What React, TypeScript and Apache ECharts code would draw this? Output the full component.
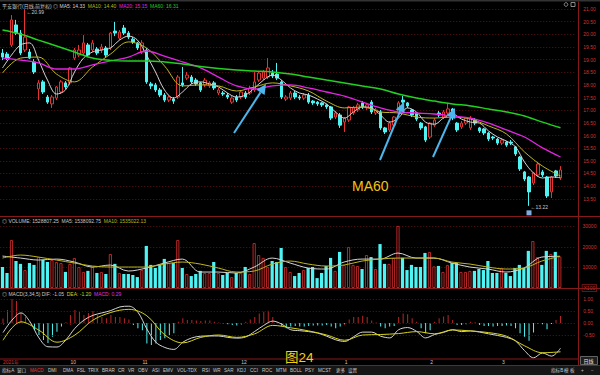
import React, { useEffect, useRef } from 'react';
import * as echarts from 'echarts';

// ---------- data ----------
// daily candles: [open, close, low, high]
const candles: number[][] = [
  [19.26, 19.10, 18.98, 19.42], [19.22, 19.06, 18.98, 19.30], [19.58, 20.57, 19.50, 20.76], [20.37, 20.05, 19.97, 20.57], [20.05, 19.26, 19.18, 20.17],
  [19.38, 19.89, 19.30, 20.99], [19.30, 19.06, 19.02, 19.42], [18.91, 18.51, 18.43, 19.02], [17.84, 18.08, 17.40, 18.19], [18.12, 17.72, 17.64, 18.19],
  [17.52, 17.32, 17.25, 17.60], [17.25, 17.52, 17.09, 17.60], [17.48, 17.92, 17.40, 17.96], [17.72, 18.12, 17.64, 18.19], [18.08, 17.92, 17.84, 18.15],
  [18.08, 18.67, 18.00, 18.71], [19.06, 19.38, 18.98, 19.46], [19.18, 19.38, 19.10, 19.58], [19.26, 19.66, 19.18, 19.97], [19.58, 19.18, 19.10, 19.66],
  [19.38, 19.66, 19.30, 19.77], [19.42, 19.26, 19.18, 19.50], [19.38, 19.50, 19.26, 19.62], [19.46, 19.18, 19.10, 19.54], [19.46, 20.05, 19.38, 20.09],
  [20.13, 20.05, 19.93, 20.49], [19.85, 20.09, 19.77, 20.17], [20.25, 20.05, 19.97, 20.37], [20.05, 19.89, 19.81, 20.13], [19.81, 19.70, 19.62, 19.89],
  [19.66, 19.46, 19.38, 19.70], [19.30, 19.66, 19.22, 19.77], [19.38, 18.12, 18.04, 19.46], [18.04, 17.96, 17.84, 18.12], [18.00, 17.80, 17.72, 18.08],
  [17.80, 17.60, 17.52, 17.88], [17.60, 17.40, 17.32, 17.68], [17.40, 17.52, 17.32, 17.60], [17.44, 17.36, 17.25, 17.52], [17.52, 18.31, 17.44, 18.39],
  [18.08, 18.00, 17.92, 18.71], [18.27, 18.39, 18.19, 18.51], [18.31, 18.12, 18.04, 18.39], [18.19, 18.04, 17.96, 18.27], [18.08, 17.80, 17.72, 18.12],
  [18.00, 18.19, 17.92, 18.27], [17.96, 18.08, 17.88, 18.15], [18.08, 17.88, 17.80, 18.15], [17.68, 17.80, 17.60, 17.88], [17.68, 17.64, 17.56, 17.76],
  [17.60, 17.52, 17.44, 17.68], [17.32, 17.48, 17.25, 17.56], [17.52, 17.40, 17.32, 17.60], [17.52, 17.72, 17.44, 17.80], [17.68, 17.52, 17.44, 17.76],
  [17.68, 17.88, 17.60, 17.96], [17.80, 18.12, 17.72, 18.51], [18.19, 18.47, 18.12, 18.55], [18.27, 18.51, 18.19, 18.59], [18.31, 18.67, 18.23, 19.06],
  [18.47, 18.35, 18.27, 18.59], [18.43, 18.27, 18.19, 18.87], [18.12, 17.52, 17.44, 18.19], [17.44, 17.52, 17.36, 17.60], [17.48, 17.68, 17.40, 17.76],
  [17.68, 17.52, 17.44, 17.76], [17.52, 17.48, 17.40, 17.60], [17.48, 17.60, 17.40, 17.68], [17.60, 17.32, 17.25, 17.68], [17.36, 17.29, 17.21, 17.40],
  [17.32, 17.25, 17.17, 17.36], [17.29, 17.21, 17.13, 17.32], [17.21, 17.13, 17.05, 17.25], [17.13, 16.69, 16.61, 17.17], [16.73, 16.89, 16.65, 16.97],
  [16.81, 16.41, 16.30, 16.89], [16.53, 16.69, 16.14, 16.73], [16.61, 17.13, 16.53, 17.17], [16.89, 17.09, 16.81, 17.17], [17.01, 17.21, 16.93, 17.29],
  [17.29, 17.13, 17.05, 17.36], [17.09, 17.21, 17.01, 17.29], [17.32, 16.93, 16.85, 17.40], [16.89, 17.01, 16.81, 17.09], [16.93, 16.30, 16.22, 17.01],
  [16.30, 16.14, 16.06, 16.34], [16.22, 16.49, 16.14, 16.57], [16.41, 16.73, 16.34, 16.77], [16.89, 17.29, 16.81, 17.36], [17.40, 17.32, 17.25, 17.56],
  [17.29, 17.17, 17.09, 17.32], [17.01, 16.81, 16.73, 17.05], [16.89, 16.65, 16.57, 16.93], [16.49, 16.30, 16.22, 16.53], [16.34, 15.82, 15.74, 16.38],
  [15.94, 16.49, 15.86, 16.53], [16.41, 16.61, 16.34, 16.69], [16.89, 16.81, 16.73, 16.97], [16.73, 16.93, 16.65, 17.01], [16.89, 17.05, 16.81, 17.29],
  [17.05, 16.69, 16.61, 17.09], [16.49, 16.22, 16.14, 16.53], [16.34, 16.49, 16.26, 16.57], [16.49, 16.69, 16.41, 16.73], [16.30, 16.69, 16.22, 16.77],
  [16.61, 16.49, 16.41, 16.69], [16.30, 16.18, 16.10, 16.34], [16.26, 16.10, 16.02, 16.30], [16.10, 15.86, 15.78, 16.14], [15.94, 15.90, 15.82, 15.98],
  [15.86, 15.70, 15.62, 15.90], [15.70, 15.82, 15.62, 15.90], [15.74, 15.62, 15.55, 15.78], [15.74, 15.70, 15.62, 15.82], [15.55, 15.27, 15.19, 15.59],
  [15.15, 14.68, 14.60, 15.19], [14.56, 14.28, 14.20, 14.60], [14.36, 13.77, 13.22, 14.40], [14.12, 14.52, 14.04, 14.56], [14.44, 14.87, 14.36, 14.95],
  [14.56, 14.44, 14.36, 14.64], [14.36, 13.61, 13.53, 14.40], [13.77, 14.36, 13.53, 14.40], [14.60, 14.40, 14.32, 14.64], [14.32, 14.64, 14.24, 14.79],
];

// volume (axis units, x100)
const volumes: number[] = [
  10200, 7300, 23300, 13100, 11700, 8700, 12100, 11200, 15000, 13600,
  12600, 13600, 12600, 12100, 7800, 11700, 14600, 10200, 7800, 8300,
  10200, 7300, 7800, 6800, 16500, 11700, 7300, 6800, 6800, 6300,
  5300, 8700, 20400, 11200, 9700, 11200, 14100, 12100, 12100, 23300,
  9700, 6800, 5800, 6800, 8300, 7300, 7300, 12600, 7300, 6300,
  7300, 5300, 7300, 7300, 10200, 6800, 21800, 16000, 14600, 10200,
  13100, 12600, 19400, 10200, 7800, 5800, 7300, 8700, 9700, 10200,
  4800, 7300, 10700, 14600, 8300, 17500, 11200, 19900, 11200, 10700,
  9200, 16000, 15000, 9200, 21300, 11700, 11700, 14600, 30100, 14600,
  8700, 11200, 10200, 10200, 17000, 17500, 10500, 10700, 7800, 11200,
  12100, 12100, 7800, 7800, 8300, 8300, 9200, 8700, 13100, 7300,
  7300, 9700, 7300, 5800, 9700, 11200, 9700, 18000, 22800, 15000,
  11200, 18000, 16500, 17500, 15288,
];

// moving averages (MA5 every 2 sessions, others every 4)
const MA5_STEP = 2;
const ma5: number[] = [
  18.67, 19.18, 19.58, 19.66, 18.98, 18.19, 17.64, 17.80, 18.51, 19.06,
  19.30, 19.38, 19.46, 19.77, 19.93, 19.77, 19.18, 18.51, 17.80, 17.48,
  17.72, 18.04, 18.12, 18.04, 17.92, 17.68, 17.52, 17.60, 17.88, 18.19,
  18.39, 18.19, 17.88, 17.68, 17.60, 17.44, 17.25, 16.93, 16.69, 16.93,
  17.13, 17.09, 16.81, 16.53, 16.69, 17.09, 16.93, 16.53, 16.45, 16.69,
  16.85, 16.65, 16.53, 16.49, 16.18, 15.94, 15.78, 15.55, 14.95, 14.52,
  14.32, 14.36, 14.33,
];
const MA_STEP = 4;
const ma10: number[] = [
  18.47, 19.06, 19.10, 18.43, 18.12, 18.71, 19.22, 19.70, 19.46, 18.75,
  17.96, 18.00, 17.96, 17.76, 17.92, 18.08, 17.96, 17.76, 17.36, 17.09,
  17.13, 16.93, 16.89, 16.73, 16.69, 16.73, 16.65, 16.38, 16.06, 15.35,
  14.79, 14.40,
];
const ma20: number[] = [
  19.06, 18.98, 18.87, 18.63, 18.63, 18.79, 18.95, 19.10, 19.34, 19.14,
  18.91, 18.67, 18.31, 17.96, 17.84, 17.96, 18.00, 17.88, 17.72, 17.56,
  17.32, 17.09, 16.93, 16.89, 16.85, 16.77, 16.69, 16.49, 16.22, 15.94,
  15.51, 15.15,
];
const ma60: number[] = [
  20.17, 20.01, 19.77, 19.54, 19.30, 19.06, 18.97, 18.95, 18.95, 18.91,
  18.83, 18.73, 18.65, 18.59, 18.55, 18.51, 18.43, 18.31, 18.19, 18.08,
  17.96, 17.84, 17.64, 17.48, 17.36, 17.25, 17.17, 17.05, 16.93, 16.77,
  16.53, 16.31,
];
const volMa5: number[] = [
  15480, 14520, 13550, 14030, 12580, 10160, 11130, 8230, 9680, 12100,
  14030, 7740, 7740, 7260, 10160, 14520, 12100, 9680, 9190, 12580,
  14030, 14030, 16940, 14520, 14520, 12100, 10160, 9190, 7740, 9680,
  15000, 15381,
];
const volMa10: number[] = [
  14520, 15970, 15000, 13550, 12100, 10650, 10160, 10160, 10160, 11610,
  12580, 11610, 9680, 7740, 8230, 11610, 13070, 11610, 10650, 11130,
  13070, 14030, 14520, 14520, 14520, 12580, 11610, 10160, 9190, 9680,
  13070, 15350,
];

// MACD
const macdHist: number[] = [
  0.19, 0.54, 1.0, 0.92, 0.42, 0.25, 0.05, -0.29, -0.5, -0.71,
  -0.83, -0.57, -0.36, -0.15, 0.03, 0.33, 0.54, 0.46, 0.33, 0.42,
  0.5, 0.33, 0.25, 0.2, 0.33, 0.25, 0.25, 0.2, 0.15, -0.08,
  -0.22, -0.3, -0.85, -0.92, -0.85, -0.71, -0.64, -0.5, -0.43, 0.05,
  0.2, 0.12, 0.12, 0.1, 0.08, 0.1, 0.1, 0.05, 0.02, -0.03,
  -0.05, -0.08, -0.1, -0.05, 0.05, 0.15, 0.25, 0.4, 0.47, 0.51,
  0.25, 0.05, -0.15, -0.22, -0.15, -0.12, -0.15, -0.15, -0.12, -0.1,
  -0.1, -0.1, -0.08, -0.15, -0.22, -0.15, -0.03, 0.15, 0.25, 0.25,
  0.3, 0.25, 0.1, 0.02, -0.15, -0.22, -0.15, -0.12, 0.25, 0.4,
  0.36, 0.2, 0.05, -0.22, -0.43, -0.3, 0.05, 0.2, 0.27, 0.33,
  0.12, -0.08, -0.08, -0.05, 0.05, 0.03, -0.08, -0.12, -0.12, -0.15,
  -0.12, -0.12, -0.1, -0.12, -0.22, -0.43, -0.57, -0.74, -0.4, -0.04,
  -0.05, -0.26, -0.04, 0.12, 0.29,
];
const DIF_STEP = 2;
const dif: number[] = [
  -0.40, 0.12, 0.42, 0.05, -0.62, -0.99, -1.0, -0.7, -0.22, 0.12,
  0.32, 0.42, 0.52, 0.67, 0.70, 0.45, -0.25, -0.8, -1.02, -1.1,
  -0.8, -0.62, -0.55, -0.54, -0.54, -0.6, -0.63, -0.58, -0.35, -0.1,
  0.08, -0.05, -0.28, -0.32, -0.36, -0.42, -0.55, -0.7, -0.77, -0.57,
  -0.38, -0.38, -0.55, -0.62, -0.28, -0.19, -0.35, -0.62, -0.48, -0.39,
  -0.28, -0.36, -0.33, -0.38, -0.45, -0.52, -0.6, -0.75, -1.15, -1.45,
  -1.25, -1.38, -1.05,
];
const DEA_STEP = 4;
const dea: number[] = [
  -0.72, 0.05, -0.3, -0.8, -0.5, 0.12, 0.44, 0.57, 0.3, -0.5,
  -0.83, -0.6, -0.5, -0.6, -0.45, -0.1, -0.2, -0.33, -0.5, -0.72,
  -0.5, -0.48, -0.44, -0.36, -0.45, -0.29, -0.33, -0.4, -0.55, -0.95,
  -1.24, -1.2,
];

// month ticks (session index where a month starts) and their labels
const monthStartIdx = [0, 15, 31, 53, 76, 95, 111];
const monthLabels = ['2021年', '10', '11', '12', '1', '2', '3'];
const SLOT_COUNT = 128; // sessions + empty room on the right

const stockTitle = '平安银行(日线,前复权)';
const volumeHeader = { volume: 1528807.25, ma5: 1538092.75, ma10: 1535022.13 };
const macdParams = '3,34,5';
const macdGridLevels = [1, 0.5, 0, -0.5];

const toolbarTabs = ['指标A', '窗口', 'MACD', 'DMI', 'DMA', 'FSL', 'TRIX', 'BRAR', 'CR', 'VR', 'OBV', 'ASI', 'EMV', 'VOL-TDX', 'RSI', 'WR', 'SAR', 'KDJ', 'CCI', 'ROC', 'MTM', 'BOLL', 'PSY', 'MCST', '更多', '设置'];
const toolbarRight = ['指标B', '模', '板', '+', '−'];

// ---------- styling / layout ----------
const FONT = '"Liberation Sans", "Noto Sans CJK SC", sans-serif';
const RED = '#e43434';
const VOL_RED = '#b92626';
const CYAN = '#4ef4f4';
const GRID_RED = '#5c1212';
const SEP = '#861a1a';
const LABEL_RED = '#d23434';
const C_MA5 = '#d4d4d4';
const C_MA10 = '#bdb520';
const C_MA20 = '#e424e4';
const C_MA60 = '#22d022';
const C_YEL = '#d6d220';
const C_MAG = '#e030e0';
const TXT = '#c8c8c8';
const HDR = 5;

const tabX = [2, 17, 30, 48, 63, 77, 88, 102, 118, 128, 138, 152, 163, 177, 202, 213, 224, 237, 250, 262, 276, 290, 305, 318, 336, 348];
const tabRightX = [551, 564, 570, 581, 591];

const sparse = (arr: number[], step: number) => arr.map((v, k) => [k * step, v]);
const last = (arr: number[]) => arr[arr.length - 1];

function txt(x: number, y: number, text: string, fill: string, fontSize = HDR, extra: any = {}) {
  return {
    type: 'text', x, y, z: 60, silent: true,
    style: { text, fill, fontSize, fontFamily: FONT, verticalAlign: 'middle', align: 'left', ...extra },
  };
}

// one header line made of coloured segments flowing left to right
function header(x: number, y: number, parts: [string, string][]) {
  const rich: any = {};
  let text = '';
  parts.forEach(([s, color], k) => {
    rich['p' + k] = { fill: color, color, fontSize: HDR, fontFamily: FONT };
    text += `{p${k}|${s}}`;
  });
  return {
    type: 'text', x, y, z: 60, silent: true,
    style: { text, rich, fontSize: HDR, fontFamily: FONT, fill: TXT, verticalAlign: 'middle', align: 'left' },
  };
}

function arrow(x1: number, y1: number, x2: number, y2: number, color: string) {
  const dx = x2 - x1, dy = y2 - y1;
  const len = Math.hypot(dx, dy);
  const ux = dx / len, uy = dy / len;
  const bx = x2 - ux * 10, by = y2 - uy * 10;
  const px = -uy * 4.8, py = ux * 4.8;
  return [
    { type: 'line', z: 70, silent: true, shape: { x1, y1, x2: bx, y2: by }, style: { stroke: color, lineWidth: 2 } },
    { type: 'polygon', z: 70, silent: true, shape: { points: [[x2, y2], [bx + px, by + py], [bx - px, by - py]] }, style: { fill: color } },
  ];
}

function buildOption() {
  const cats = Array.from({ length: SLOT_COUNT }, (_, i) => String(i));
  const isUp = (i: number) => candles[i][1] >= candles[i][0];

  let hiIdx = 0, loIdx = 0;
  candles.forEach((c, i) => {
    if (c[3] > candles[hiIdx][3]) hiIdx = i;
    if (c[2] < candles[loIdx][2]) loIdx = i;
  });

  const gridBase = { left: 0.25, right: 23.75 };
  const xAxes = [0, 1, 2].map((g) => ({
    type: 'category', gridIndex: g, data: cats, boundaryGap: true,
    axisLine: { show: false },
    axisTick: {
      show: g === 2, alignWithLabel: true, length: 2,
      interval: (i: number) => monthStartIdx.includes(i),
      lineStyle: { color: SEP },
    },
    axisLabel: {
      show: g === 2, margin: 0.5, align: 'left', fontSize: 5, fontFamily: FONT, color: TXT,
      interval: (i: number) => monthStartIdx.includes(i),
      formatter: (_v: string, i: number) => {
        const k = monthStartIdx.indexOf(i);
        if (k < 0) return '';
        return k === 0 ? `{y|${monthLabels[k]}}` : monthLabels[k];
      },
      rich: { y: { color: LABEL_RED, fontSize: 5, fontFamily: FONT } },
    },
    splitLine: { show: false },
  }));

  const yLabel = { color: LABEL_RED, fontSize: 5, fontFamily: FONT, margin: 7 };
  const dashed = { color: GRID_RED, type: [1, 2], width: 1 };

  const lineSeries = (name: string, data: any[], color: string, xi: number, width = 1) => ({
    name, type: 'line', xAxisIndex: xi, yAxisIndex: xi, data, smooth: 0.35, showSymbol: false,
    symbol: 'none', silent: true, z: 5, lineStyle: { color, width }, itemStyle: { color },
  });

  const sp = '  ';

  return {
    animation: false,
    backgroundColor: '#000',
    grid: [
      { ...gridBase, top: 2.7, height: 208.7 },
      { ...gridBase, top: 222, height: 66 },
      { ...gridBase, top: 294.2, height: 64.8 },
    ],
    xAxis: xAxes,
    yAxis: [
      {
        gridIndex: 0, position: 'right', min: 13, max: 21.25, interval: 0.5,
        axisLine: { show: false }, axisTick: { show: false },
        axisLabel: { ...yLabel, formatter: (v: number) => (v >= 13.4 && v <= 21.01 ? v.toFixed(2) : '') },
        splitLine: { show: true, showMinLine: false, showMaxLine: false, lineStyle: dashed },
      },
      {
        gridIndex: 1, position: 'right', min: 0, max: 32000, interval: 10000,
        axisLine: { show: false }, axisTick: { show: false },
        axisLabel: {
          ...yLabel,
          formatter: (v: number) => (v === 0 ? '{b|X100}' : v % 10000 === 0 ? String(v) : ''),
          rich: { b: { color: LABEL_RED, fontSize: 5, fontFamily: FONT, borderColor: SEP, borderWidth: 0.8, padding: [0.5, 1], backgroundColor: '#000' } },
        },
        splitLine: { show: true, showMinLine: false, showMaxLine: false, lineStyle: dashed },
      },
      {
        gridIndex: 2, position: 'right', min: -1.5, max: 1.2, interval: 0.5,
        axisLine: { show: false }, axisTick: { show: false },
        axisLabel: { ...yLabel, formatter: (v: number) => (v >= -0.51 && v <= 1.01 ? v.toFixed(2) : '') },
        splitLine: { show: false },
      },
    ],
    series: [
      {
        name: 'K', type: 'candlestick', xAxisIndex: 0, yAxisIndex: 0, data: candles, barWidth: 3, z: 3,
        itemStyle: { color: '#000', color0: CYAN, borderColor: RED, borderColor0: CYAN, borderWidth: 1 },
        markPoint: {
          silent: true, symbol: 'circle', symbolSize: 1, itemStyle: { color: 'transparent' },
          label: { show: true, position: 'right', distance: 1, color: TXT, fontSize: 5, fontFamily: FONT },
          data: [
            { coord: [hiIdx, candles[hiIdx][3]], label: { formatter: '←' + candles[hiIdx][3].toFixed(2), offset: [0, 3] } },
            { coord: [loIdx, candles[loIdx][2]], label: { formatter: '←' + candles[loIdx][2].toFixed(2), offset: [0, 1] } },
            { coord: [loIdx, candles[loIdx][2]], symbol: 'rect', symbolSize: [5, 5], symbolOffset: [0, 7], itemStyle: { color: '#7eaee0' }, label: { show: false } },
          ],
        },
      },
      lineSeries('MA5', sparse(ma5, MA5_STEP), C_MA5, 0),
      lineSeries('MA10', sparse(ma10, MA_STEP), C_MA10, 0),
      lineSeries('MA20', sparse(ma20, MA_STEP), C_MA20, 0, 1.3),
      lineSeries('MA60', sparse(ma60, MA_STEP), C_MA60, 0, 1.5),
      {
        name: 'VOL', type: 'bar', xAxisIndex: 1, yAxisIndex: 1, barWidth: 3.2, silent: true,
        data: volumes.map((v, i) => ({
          value: v,
          itemStyle: isUp(i) ? { color: '#000', borderColor: VOL_RED, borderWidth: 1 } : { color: CYAN },
        })),
      },
      lineSeries('VMA5', sparse(volMa5, MA_STEP), C_MA5, 1),
      lineSeries('VMA10', sparse(volMa10, MA_STEP), C_MA10, 1),
      {
        name: 'MACD', type: 'bar', xAxisIndex: 2, yAxisIndex: 2, barWidth: 1, silent: true,
        data: macdHist.map((v) => ({ value: v, itemStyle: { color: v >= 0 ? VOL_RED : CYAN } })),
        markLine: {
          silent: true, symbol: ['none', 'none'], label: { show: false },
          lineStyle: dashed, data: macdGridLevels.map((v) => ({ yAxis: v })),
        },
      },
      lineSeries('DIF', sparse(dif, DIF_STEP), C_MA5, 2),
      lineSeries('DEA', sparse(dea, DEA_STEP), C_YEL, 2),
    ],
    graphic: [
      { type: 'rect', silent: true, z: 40, shape: { x: 0, y: 0, width: 600, height: 1.5 }, style: { fill: '#333' } },
      { type: 'line', silent: true, z: 40, shape: { x1: 0, y1: 216.5, x2: 600, y2: 216.5 }, style: { stroke: SEP, lineWidth: 1 } },
      { type: 'line', silent: true, z: 40, shape: { x1: 0, y1: 288.5, x2: 600, y2: 288.5 }, style: { stroke: SEP, lineWidth: 1 } },
      { type: 'line', silent: true, z: 40, shape: { x1: 0, y1: 359, x2: 578.5, y2: 359 }, style: { stroke: SEP, lineWidth: 1 } },
      { type: 'line', silent: true, z: 40, shape: { x1: 578.5, y1: 1.5, x2: 578.5, y2: 365 }, style: { stroke: SEP, lineWidth: 1 } },
      // header icons
      { type: 'circle', silent: true, z: 40, shape: { cx: 566, cy: 4.5, r: 1.8 }, style: { stroke: '#aaa', fill: 'none', lineWidth: 0.8 } },
      { type: 'rect', silent: true, z: 40, shape: { x: 571, y: 2.5, width: 4, height: 4 }, style: { stroke: '#aaa', fill: 'none', lineWidth: 0.8 } },
      // panel headers
      header(2, 5.5, [
        [stockTitle + ' ◎ ', TXT],
        [`MA5: ${last(ma5).toFixed(2)}` + sp, C_MA5],
        [`MA10: ${last(ma10).toFixed(2)}` + sp, C_MA10],
        [`MA20: ${last(ma20).toFixed(2)}` + sp, C_MA20],
        [`MA60: ${last(ma60).toFixed(2)}`, C_MA60],
      ]),
      header(2, 220.5, [
        [`◎ VOLUME: ${volumeHeader.volume.toFixed(2)}` + sp, TXT],
        [`MA5: ${volumeHeader.ma5.toFixed(2)}` + sp, TXT],
        [`MA10: ${volumeHeader.ma10.toFixed(2)}`, C_MA10],
      ]),
      header(2, 294, [
        [`◎ MACD(${macdParams}) DIF: ${last(dif).toFixed(2)}` + sp, TXT],
        [`DEA: ${last(dea).toFixed(2)}` + sp, C_YEL],
        [`MACD: ${last(macdHist).toFixed(2)}`, C_MAG],
      ]),
      // annotations
      ...arrow(234, 133, 266, 84, '#4db6ec'),
      ...arrow(380, 160, 404, 102, '#4db6ec'),
      ...arrow(433, 157, 455, 108, '#4db6ec'),
      txt(352, 185.5, 'MA60', '#f0c414', 14),
      txt(285, 357, '图24', '#f2d014', 13.5),
      // period box
      { type: 'rect', silent: true, z: 40, shape: { x: 580.5, y: 356.5, width: 17, height: 8 }, style: { stroke: '#777', fill: '#1e1e1e', lineWidth: 0.8 } },
      txt(583.5, 360.8, '日线', '#e6e6e6', 5),
      // toolbar
      { type: 'rect', silent: true, z: 40, shape: { x: 0, y: 365.5, width: 600, height: 9.5 }, style: { fill: '#161616' } },
      { type: 'line', silent: true, z: 41, shape: { x1: 0, y1: 365.5, x2: 600, y2: 365.5 }, style: { stroke: '#3a3a3a', lineWidth: 1 } },
      ...toolbarTabs.map((s, k) => txt(tabX[k], 370.5, s, s === 'MACD' ? RED : TXT, 4.6)),
      ...toolbarRight.map((s, k) => txt(tabRightX[k], 370.5, s, TXT, 4.6)),
    ],
  };
}

export default function App() {
  const ref = useRef<HTMLDivElement>(null);
  useEffect(() => {
    if (!ref.current) return;
    const chart = echarts.init(ref.current, null, { renderer: 'svg' });
    chart.setOption(buildOption() as any);
    return () => chart.dispose();
  }, []);
  return (
    <div
      ref={ref}
      style={{ position: 'fixed', left: 0, top: 0, width: 600, height: 375, background: '#000' }}
    />
  );
}
